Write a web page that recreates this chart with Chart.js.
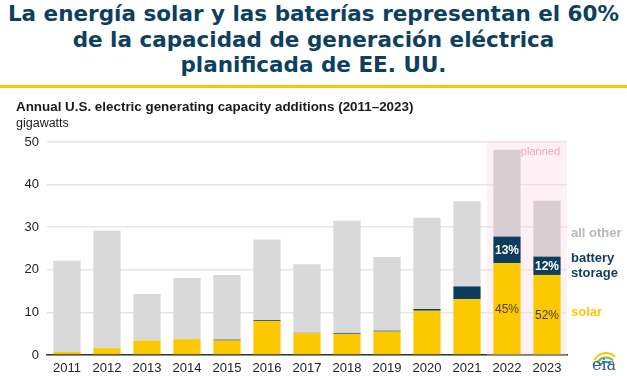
<!DOCTYPE html>
<html>
<head>
<meta charset="utf-8">
<script src="https://cdn.jsdelivr.net/npm/chart.js@4.4.1/dist/chart.umd.min.js"></script>
<style>
    html, body { margin: 0; padding: 0; background: #fff; }
    #wrap { position: relative; width: 627px; height: 376px; overflow: hidden; }
    #headline {
        position: absolute; left: 0; top: 1px; width: 627px;
        text-align: center; color: #0d3f5f;
        font: bold 21.5px "DejaVu Sans", sans-serif;
        line-height: 25.5px;
    }
    #rule { position: absolute; left: 0; top: 85px; width: 627px; height: 3px; background: #f7c600; }
    #chartBox { position: absolute; left: 0; top: 90px; width: 627px; height: 286px; }
</style>
</head>
<body>
<div id="wrap">
    <div id="headline">La energía solar y las baterías representan el 60%<br>de la capacidad de generación eléctrica<br>planificada de EE. UU.</div>
    <div id="rule"></div>
    <div id="chartBox"><canvas id="capacityChart" width="627" height="286"></canvas></div>
</div>
<script>
// values, gigawatts
const years = ['2011', '2012', '2013', '2014', '2015', '2016', '2017', '2018', '2019', '2020', '2021', '2022', '2023'];
const solar = [0.7, 1.6, 3.4, 3.7, 3.4, 8.0, 5.1, 4.9, 5.5, 10.4, 13.1, 21.6, 18.8];
const battery = [0.0, 0.0, 0.0, 0.0, 0.2, 0.2, 0.1, 0.2, 0.2, 0.4, 3.0, 6.2, 4.3];
const allOther = [21.4, 27.6, 10.9, 14.4, 15.2, 18.9, 16.1, 26.4, 17.3, 21.4, 20.0, 20.4, 13.1];
const solarShare = [null, null, null, null, null, null, null, null, null, null, null, '45%', '52%'];
const batteryShare = [null, null, null, null, null, null, null, null, null, null, null, '13%', '12%'];
const yTicks = [0, 10, 20, 30, 40, 50];
const plannedFrom = 11; // index of first planned year

const FONT = '"Liberation Sans", Arial, sans-serif';
const GRAY = '#d9d9d9';
const GRAY_PLANNED = '#d7cdd1';
const YELLOW = '#fcc800';
const NAVY = '#0d3d5e';

// pink "planned" band behind the bars
const plannedBand = {
    id: 'plannedBand',
    beforeDatasetsDraw(chart) {
        const { ctx, chartArea, scales } = chart;
        const x = scales.x, y = scales.y;
        const half = (x.getPixelForValue(1) - x.getPixelForValue(0)) / 2;
        const left = x.getPixelForValue(plannedFrom) - half;
        const top = y.getPixelForValue(50) - 1;
        ctx.save();
        ctx.fillStyle = 'rgba(252, 218, 228, 0.38)';
        ctx.fillRect(left, top, chartArea.right - left, chartArea.bottom - top);
        ctx.fillStyle = '#f4a3b3';
        ctx.font = '11px ' + FONT;
        ctx.textAlign = 'right';
        ctx.textBaseline = 'middle';
        ctx.fillText('planned', chartArea.right - 7, top + 11);
        ctx.restore();
    }
};

// share labels inside the bars
const shareLabels = {
    id: 'shareLabels',
    afterDatasetsDraw(chart) {
        const { ctx } = chart;
        const solarMeta = chart.getDatasetMeta(0);
        const battMeta = chart.getDatasetMeta(1);
        ctx.save();
        ctx.textAlign = 'center';
        ctx.textBaseline = 'middle';
        years.forEach((yr, i) => {
            if (batteryShare[i]) {
                const b = battMeta.data[i];
                ctx.fillStyle = '#fff';
                ctx.font = 'bold 12px ' + FONT;
                ctx.fillText(batteryShare[i], b.x, (b.y + b.base) / 2 + 1);
            }
            if (solarShare[i]) {
                const s = solarMeta.data[i];
                ctx.fillStyle = '#4a3f1a';
                ctx.font = '12px ' + FONT;
                ctx.fillText(solarShare[i], s.x, (s.y + s.base) / 2 + 1);
            }
        });
        ctx.restore();
    }
};

// headings, right-side series labels and the eia mark
const annotations = {
    id: 'annotations',
    afterDraw(chart) {
        const { ctx, chartArea, scales } = chart;
        const y = scales.y;
        ctx.save();
        ctx.textBaseline = 'middle';
        ctx.textAlign = 'left';
        ctx.fillStyle = '#1a1a1a';
        ctx.font = 'bold 13.4px ' + FONT;
        ctx.fillText('Annual U.S. electric generating capacity additions (2011\u20132023)', 16, 17);
        ctx.font = '12.5px ' + FONT;
        ctx.fillText('gigawatts', 16, 34);

        const lx = chartArea.right + 4;
        ctx.font = 'bold 13px ' + FONT;
        ctx.fillStyle = '#b8b8b8';
        ctx.fillText('all other', lx, y.getPixelForValue(28.6));
        ctx.fillStyle = NAVY;
        ctx.fillText('battery', lx, y.getPixelForValue(22.7));
        ctx.fillText('storage', lx, y.getPixelForValue(19.2));
        ctx.fillStyle = YELLOW;
        ctx.fillText('solar', lx, y.getPixelForValue(10));

        // eia mark
        const ex = 604, ey = 274;
        ctx.lineWidth = 2;
        [['#f7c600', 13], ['#7cc242', 10], ['#1b9bd7', 7]].forEach(([c, r], k) => {
            ctx.strokeStyle = c;
            ctx.beginPath();
            ctx.arc(ex + 2, ey + 2 + k * 1.5, r, Math.PI * 1.15, Math.PI * 1.75);
            ctx.stroke();
        });
        ctx.fillStyle = '#3d5a78';
        ctx.font = '16px "DejaVu Serif", serif';
        ctx.textAlign = 'center';
        ctx.fillText('eia', ex, ey + 2);
        ctx.restore();
    }
};

const ctx = document.getElementById('capacityChart').getContext('2d');
new Chart(ctx, {
    type: 'bar',
    data: {
        labels: years,
        datasets: [
            { label: 'solar', data: solar, backgroundColor: YELLOW },
            { label: 'battery storage', data: battery, backgroundColor: NAVY },
            {
                label: 'all other',
                data: allOther,
                backgroundColor: years.map((yr, i) => (i >= plannedFrom ? GRAY_PLANNED : GRAY))
            }
        ]
    },
    options: {
        responsive: false,
        animation: false,
        layout: { padding: { top: 52, right: 60, left: 0, bottom: 0 } },
        datasets: {
            bar: { barPercentage: 0.68, categoryPercentage: 1, borderWidth: 0 }
        },
        plugins: {
            legend: { display: false },
            tooltip: { enabled: false }
        },
        scales: {
            x: {
                stacked: true,
                grid: { display: false, drawTicks: false },
                border: { display: true, color: '#333', width: 1.5 },
                ticks: { color: '#222', font: { family: FONT, size: 13 }, padding: 6, maxRotation: 0 },
                afterFit: (s) => { s.height = 21; }
            },
            y: {
                stacked: true,
                min: 0,
                max: 50,
                afterBuildTicks: (s) => { s.ticks = yTicks.map(v => ({ value: v })); },
                grid: { color: '#e6e6e6', lineWidth: 1.5, drawTicks: false },
                border: { display: false },
                ticks: { color: '#222', font: { family: FONT, size: 13 }, padding: 8 },
                afterFit: (s) => { s.width = 47; }
            }
        }
    },
    plugins: [plannedBand, shareLabels, annotations]
});
</script>
</body>
</html>
